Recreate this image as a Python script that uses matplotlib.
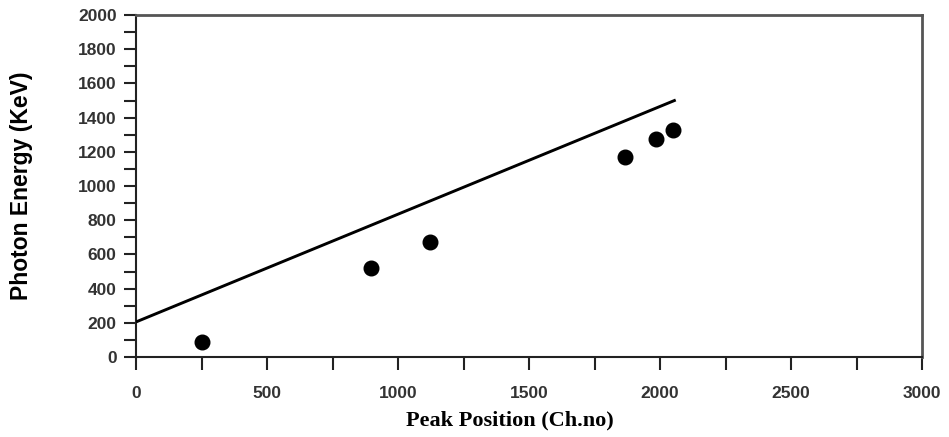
import matplotlib
matplotlib.use("Agg")
import matplotlib.pyplot as plt
import numpy as np
from matplotlib.ticker import MultipleLocator, FixedLocator

# Data
peak_position = [250, 898, 1121, 1866, 1983, 2051]
photon_energy = [90, 519, 670, 1171, 1273, 1327]
fit_x = [0, 2060]
fit_y = [205, 1503]

xticks = [0, 500, 1000, 1500, 2000, 2500, 3000]
yticks = [0, 200, 400, 600, 800, 1000, 1200, 1400, 1600, 1800, 2000]

fig = plt.figure(figsize=(9.49, 4.37), dpi=100)
ax = fig.add_axes([136/949, 80/437, (922-136)/949, (357-15)/437])

ax.plot(fit_x, fit_y, color="black", lw=2.1, solid_capstyle="butt", zorder=3)
ax.plot(peak_position, photon_energy, "o", color="black", markersize=10.5, zorder=4)

ax.set_xlim(0, 3000)
ax.set_ylim(0, 2000)
ax.set_xticks(xticks)
ax.xaxis.set_minor_locator(MultipleLocator(250))
ax.set_yticks(yticks)
ax.yaxis.set_minor_locator(MultipleLocator(100))

for axis in (ax.xaxis, ax.yaxis):
    axis.set_tick_params(which="both", direction="out", length=9, width=1.5, color="#222222")
ax.tick_params(axis="x", which="major", pad=12)
ax.tick_params(axis="y", which="major", pad=5)

for lbl in ax.get_xticklabels() + ax.get_yticklabels():
    lbl.set_fontfamily("Liberation Sans")
    lbl.set_fontweight("bold")
    lbl.set_fontsize(12.5)
    lbl.set_color("#333333")

ax.spines["left"].set_color("#222222")
ax.spines["bottom"].set_color("#222222")
ax.spines["left"].set_linewidth(1.5)
ax.spines["bottom"].set_linewidth(1.5)
ax.spines["top"].set_color("#555555")
ax.spines["right"].set_color("#555555")
ax.spines["top"].set_linewidth(2)
ax.spines["right"].set_linewidth(2)

fig.text(510/949, 1 - 420/437, "Peak Position (Ch.no)", ha="center", va="center",
         fontfamily="Liberation Serif", fontweight="bold", fontsize=16)
fig.text(22/949, 1 - 186/437, "Photon Energy (KeV)", ha="center", va="center",
         rotation=90, fontfamily="Liberation Sans", fontweight="bold", fontsize=16.5)

fig.savefig("out.png", dpi=100)
